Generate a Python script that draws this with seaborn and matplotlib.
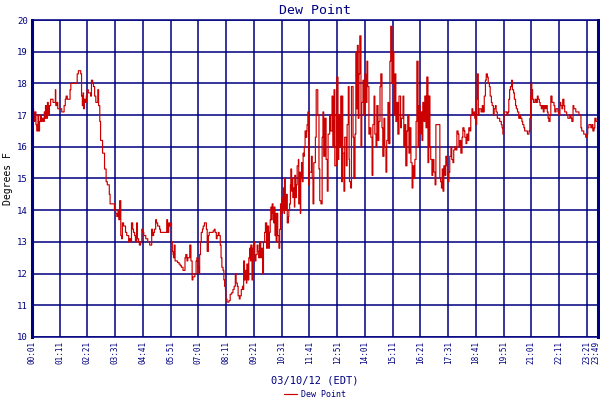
import pandas as pd
import matplotlib
matplotlib.use("Agg")
import matplotlib.pyplot as plt
import seaborn as sns

# dew point readings, minutes after midnight (03/10/12) and degrees F
night_minutes = [1, 3, 5, 7, 8, 11, 13, 16, 18, 20,
                 23, 24, 27, 30, 32, 34, 35, 37, 40, 42,
                 44, 45, 48, 50, 54, 57, 60, 61, 64, 66,
                 69, 72, 76, 80, 82, 85, 87, 90, 94, 97,
                 99, 104, 109, 113, 115, 118, 121, 124, 126, 128,
                 130, 131, 133, 135, 136, 138, 140, 143, 146, 149,
                 151, 154, 156, 159, 162, 164, 167, 169, 172, 174,
                 177, 179, 182, 184, 187, 188, 191, 193, 196, 198,
                 201, 205]
night_dew = [16.7, 17.2, 16.9, 16.8, 17.1, 16.7, 16.5, 17.0, 16.5, 16.8,
             17.0, 16.8, 16.9, 16.8, 17.1, 16.9, 17.3, 16.9, 17.4, 17.0,
             17.0, 17.3, 17.5, 17.5, 17.4, 17.4, 17.8, 17.3, 17.4, 17.2,
             17.2, 17.2, 17.1, 17.1, 17.3, 17.5, 17.6, 17.5, 17.5, 17.8,
             18.0, 18.0, 18.0, 18.0, 18.3, 18.4, 18.4, 18.3, 17.6, 17.3,
             17.7, 17.2, 17.5, 17.5, 17.4, 17.6, 17.8, 17.7, 17.7, 17.6,
             18.1, 18.0, 17.9, 17.6, 17.4, 17.4, 17.8, 17.3, 16.8, 16.2,
             16.2, 15.8, 15.8, 15.3, 15.3, 14.9, 14.8, 14.8, 14.5, 14.2,
             14.2, 14.2]

dawn_minutes = [209, 212, 215, 218, 220, 222, 225, 227, 229, 232,
                235, 237, 240, 242, 245, 247, 250, 252, 255, 257,
                260, 262, 265, 267, 270, 272, 275, 278, 280, 283,
                285, 288, 290, 293, 295, 298, 300, 303, 305, 308,
                310, 313, 315, 318, 320, 323, 325, 328, 333, 338,
                341, 343, 346, 348, 351, 353, 355, 357, 358, 360,
                362, 365, 368, 372, 375, 378, 382, 384, 387, 389,
                392, 394, 397, 399, 402, 405, 407, 410, 412, 415,
                417, 420, 422, 424, 426, 428, 431, 433, 436, 438,
                441, 443, 446, 448, 451, 456, 458, 461, 463, 466,
                468, 471, 473, 476, 478, 480, 483, 485, 487, 489,
                490, 493, 495, 498]
dawn_dew = [14.0, 13.9, 13.8, 14.0, 13.7, 14.3, 13.2, 13.1, 13.6, 13.5,
            13.5, 13.3, 13.2, 13.2, 13.0, 13.1, 13.0, 13.6, 13.4, 13.3,
            13.2, 13.0, 13.6, 13.1, 13.0, 12.9, 13.0, 13.4, 13.3, 13.2,
            13.2, 13.1, 13.1, 13.0, 13.0, 12.9, 12.9, 13.4, 13.2, 13.3,
            13.4, 13.7, 13.6, 13.5, 13.5, 13.4, 13.3, 13.3, 13.3, 13.3,
            13.7, 13.3, 13.6, 13.5, 13.6, 13.0, 12.7, 12.6, 12.5, 12.9,
            12.4, 12.4, 12.35, 12.3, 12.25, 12.2, 12.1, 12.1, 12.5, 12.6,
            12.4, 12.5, 12.5, 12.9, 12.4, 11.8, 11.9, 11.9, 12.0, 12.4,
            12.5, 12.2, 12.0, 12.6, 13.0, 13.3, 13.4, 13.5, 13.6, 13.6,
            13.4, 12.7, 13.2, 13.3, 13.3, 13.3, 13.35, 13.4, 13.3, 13.1,
            13.2, 13.3, 13.2, 12.9, 12.5, 12.2, 12.1, 11.8, 11.6, 11.5,
            11.2, 11.1, 11.1, 11.15]

morning_minutes = [501, 505, 508, 511, 514, 516, 519, 521, 524, 526,
                   529, 532, 533, 535, 537, 539, 542, 543, 546, 548,
                   550, 552, 553, 556, 558, 561, 563, 566, 569, 571,
                   573, 575, 578, 580, 583, 585, 588, 590, 593, 595,
                   598, 600, 602, 604, 605, 607, 609, 611, 612, 614,
                   616, 617, 619, 621, 624, 626, 628, 630, 632, 633,
                   635, 637, 638, 640, 643, 645, 648, 649, 651, 653,
                   654, 656, 658, 659, 661, 663, 664, 666, 668, 670,
                   673, 674, 676, 678, 679, 681, 683, 685, 686, 688,
                   690, 692, 694, 695, 697, 699]
morning_dew = [11.35, 11.4, 11.5, 11.6, 12.0, 11.7, 11.6, 11.3, 11.2, 11.3,
               11.5, 11.6, 11.5, 12.4, 11.8, 12.1, 11.7, 12.3, 11.8, 12.5,
               12.8, 12.4, 12.9, 11.8, 12.8, 13.0, 12.4, 12.6, 12.9, 12.7,
               12.5, 13.0, 12.5, 12.8, 12.0, 13.0, 13.3, 13.6, 12.8, 13.5,
               12.8, 13.3, 13.7, 14.1, 13.7, 14.2, 13.9, 13.6, 14.1, 13.2,
               13.9, 13.0, 13.9, 13.2, 12.8, 13.4, 14.2, 13.9, 14.4, 14.0,
               14.7, 13.9, 15.0, 14.0, 14.5, 13.6, 13.8, 14.0, 14.2, 14.8,
               15.3, 14.6, 15.0, 14.4, 14.7, 14.1, 15.1, 14.4, 14.8, 15.4,
               15.6, 14.2, 15.2, 13.9, 15.0, 15.5, 14.9, 15.8, 15.7, 16.0,
               16.5, 16.3, 16.5, 16.7, 17.1, 14.8]

midday_minutes = [701, 706, 708, 710, 712, 716, 718, 722, 725, 727,
                  730, 733, 735, 737, 740, 743, 746, 748, 752, 754,
                  758, 760, 763, 765, 769, 770, 773, 775, 777, 780,
                  782, 784, 785, 788, 790, 794, 796, 799, 801, 802,
                  805, 807, 811, 813, 816, 818, 820, 822, 824, 826,
                  828, 831, 833, 836, 838, 841, 843, 846, 848, 851,
                  853, 856, 859, 861, 864, 866, 869, 871, 874, 876,
                  879, 881, 884, 886, 889, 891, 894, 896, 899, 901,
                  904, 906, 909, 912, 914, 917, 919, 922, 924, 927]
midday_dew = [15.2, 15.7, 15.0, 14.2, 15.5, 16.3, 17.8, 17.0, 15.3, 14.3,
              14.2, 16.3, 17.1, 15.7, 16.9, 15.6, 14.6, 16.4, 17.0, 16.5,
              17.6, 16.0, 17.8, 15.4, 17.0, 18.2, 15.6, 17.0, 16.0, 17.6,
              14.9, 17.6, 15.8, 14.6, 16.3, 15.4, 16.7, 17.9, 15.6, 14.9,
              14.7, 17.9, 16.3, 15.0, 16.4, 19.0, 17.2, 19.2, 16.9, 18.3,
              19.5, 16.0, 17.4, 18.1, 17.0, 18.3, 17.4, 18.7, 17.9, 16.4,
              16.6, 16.3, 15.1, 16.7, 17.6, 16.4, 16.0, 17.3, 16.2, 16.8,
              17.9, 18.3, 16.6, 15.7, 16.9, 16.0, 15.2, 16.2, 17.4, 16.1,
              18.7, 19.8, 18.0, 19.0, 17.0, 18.3, 16.8, 17.4, 16.4, 17.6]

afternoon_minutes = [931, 933, 937, 939, 942, 944, 947, 949, 952, 954,
                     957, 960, 962, 965, 967, 970, 972, 975, 977, 980,
                     982, 985, 987, 990, 992, 995, 997, 1000, 1002, 1005,
                     1007, 1010, 1012, 1015, 1018, 1020, 1028, 1030, 1032, 1034,
                     1036, 1038, 1040, 1043, 1045, 1048, 1050, 1053, 1055, 1058,
                     1060, 1063, 1065, 1068, 1071, 1073, 1076, 1078, 1081, 1083,
                     1086, 1088, 1091, 1093, 1096, 1098, 1101, 1103, 1106, 1108,
                     1111, 1113, 1116, 1118, 1121, 1123, 1124, 1127, 1129, 1132,
                     1134, 1137, 1139, 1142, 1145, 1147, 1150, 1152, 1155, 1157,
                     1160, 1162, 1165, 1167, 1170, 1172, 1175, 1177]
afternoon_dew = [16.6, 16.9, 17.6, 16.0, 16.7, 15.4, 16.5, 17.0, 15.8, 16.6,
                 15.5, 14.7, 15.4, 15.0, 15.6, 16.8, 18.7, 16.0, 17.3, 16.4,
                 17.1, 16.2, 17.4, 16.8, 17.6, 16.6, 18.2, 15.5, 17.6, 16.0,
                 15.6, 15.1, 15.6, 15.2, 14.8, 16.7, 16.7, 15.0, 14.9, 14.7,
                 15.3, 14.6, 15.4, 15.1, 15.7, 15.4, 14.9, 15.2, 15.7, 16.0,
                 15.6, 15.5, 15.9, 16.0, 15.9, 16.5, 16.4, 16.0, 16.2, 15.8,
                 16.3, 16.6, 16.5, 16.3, 16.1, 16.4, 16.2, 16.6, 16.5, 17.0,
                 17.2, 17.0, 17.1, 16.9, 16.7, 17.5, 18.3, 17.0, 17.2, 17.2,
                 17.1, 17.3, 17.1, 17.6, 18.1, 18.3, 18.2, 18.0, 17.9, 17.6,
                 17.4, 17.3, 17.0, 17.2, 17.3, 17.1, 16.9, 16.9]

evening_minutes = [1181, 1185, 1187, 1189, 1191, 1192, 1196, 1199, 1202, 1204,
                   1206, 1208, 1211, 1213, 1216, 1218, 1221, 1223, 1226, 1229,
                   1232, 1234, 1237, 1239, 1242, 1244, 1248, 1251, 1255, 1257,
                   1259, 1260, 1262, 1264, 1266, 1270, 1273, 1276, 1278, 1281,
                   1283, 1286, 1288, 1291, 1293, 1296, 1298, 1301, 1303, 1305,
                   1308, 1310, 1313, 1315, 1318, 1320, 1323, 1325, 1328, 1330,
                   1333, 1335, 1338, 1340, 1343, 1345, 1348, 1350, 1353, 1356,
                   1358, 1361, 1363, 1366, 1368, 1371, 1373, 1376, 1378, 1381,
                   1383, 1386, 1388, 1391, 1393, 1396, 1398, 1401, 1403, 1406,
                   1409, 1411, 1414, 1416, 1419, 1421, 1424, 1426, 1429]
evening_dew = [16.8, 16.7, 16.6, 16.4, 16.8, 17.1, 17.1, 17.0, 17.1, 17.5,
               17.8, 17.9, 18.1, 17.8, 17.7, 17.5, 17.3, 17.2, 17.1, 16.9,
               17.0, 16.9, 16.8, 16.7, 16.6, 16.5, 16.5, 16.4, 16.5, 16.9,
               17.6, 18.0, 17.8, 17.5, 17.4, 17.5, 17.4, 17.6, 17.5, 17.4,
               17.3, 17.2, 17.3, 17.1, 17.3, 17.2, 17.3, 17.1, 16.9, 16.8,
               17.0, 17.6, 17.4, 17.4, 17.3, 17.1, 17.2, 17.2, 17.1, 17.0,
               17.4, 17.3, 17.2, 17.5, 17.3, 17.1, 17.1, 17.0, 16.9, 16.9,
               17.0, 16.9, 16.8, 17.3, 17.2, 17.2, 17.1, 17.1, 17.1, 17.0,
               17.0, 16.6, 16.5, 16.5, 16.4, 16.4, 16.3, 16.4, 16.6, 16.7,
               16.7, 16.6, 16.7, 16.5, 16.6, 16.9, 16.8, 16.8, 16.8]

tick_labels = ["00:01", "01:11", "02:21", "03:31", "04:41", "05:51", "07:01",
               "08:11", "09:21", "10:31", "11:41", "12:51", "14:01", "15:11",
               "16:21", "17:31", "18:41", "19:51", "21:01", "22:11", "23:21",
               "23:49"]
y_ticks = [10, 11, 12, 13, 14, 15, 16, 17, 18, 19, 20]

NAVY = "#000080"
RED = "#CC0000"

df = pd.DataFrame({
    "minute": night_minutes + dawn_minutes + morning_minutes
    + midday_minutes + afternoon_minutes + evening_minutes,
    "dew_point": night_dew + dawn_dew + morning_dew
    + midday_dew + afternoon_dew + evening_dew,
})

sns.set_theme(style="white")
plt.rcParams["font.family"] = ["DejaVu Sans Mono", "DejaVu Sans"]

fig = plt.figure(figsize=(6, 4), dpi=100)
ax = fig.add_axes([32 / 600, 1 - 337 / 400, 566 / 600, 317 / 400])

sns.lineplot(
    data=df, x="minute", y="dew_point", ax=ax, color=RED,
    linewidth=0.85, estimator=None, drawstyle="steps-post", label="Dew Point",
)

tick_pos = [int(t[:2]) * 60 + int(t[3:]) for t in tick_labels]
ax.set_xlim(tick_pos[0], tick_pos[-1])
ax.set_ylim(y_ticks[0], y_ticks[-1])
ax.set_xticks(tick_pos)
# the last label sits on the right edge; it is drawn separately, nudged left
ax.set_xticklabels(tick_labels[:-1] + [""], rotation=90, fontsize=5.5, color=NAVY)
ax.annotate(
    tick_labels[-1], xy=(tick_pos[-1], 0), xycoords=("data", "axes fraction"),
    xytext=(-1.8, -3), textcoords="offset points", rotation=90,
    ha="center", va="top", fontsize=5.5, color=NAVY,
)
ax.set_yticks(y_ticks)
ax.set_yticklabels([str(v) for v in y_ticks], fontsize=6.5, color=NAVY)
ax.tick_params(length=0, pad=3)

ax.grid(True, color=NAVY, linewidth=1.1)
ax.set_axisbelow(True)
for side, sp in ax.spines.items():
    sp.set_visible(True)
    sp.set_color(NAVY)
    sp.set_linewidth(2.2 if side in ("left", "right") else 1.1)

ax.set_title("Dew Point", fontsize=9.5, color=NAVY, pad=4)
ax.set_xlabel("03/10/12 (EDT)", fontsize=7.5, color=NAVY, labelpad=8)
ax.set_ylabel("Degrees F", fontsize=7, color="black", labelpad=3)

ax.legend(
    loc="center", bbox_to_anchor=(0.5, -0.18), frameon=False,
    fontsize=6, labelcolor=NAVY, handlelength=1.6, handletextpad=0.4,
)

fig.savefig("out.png", dpi=100)
